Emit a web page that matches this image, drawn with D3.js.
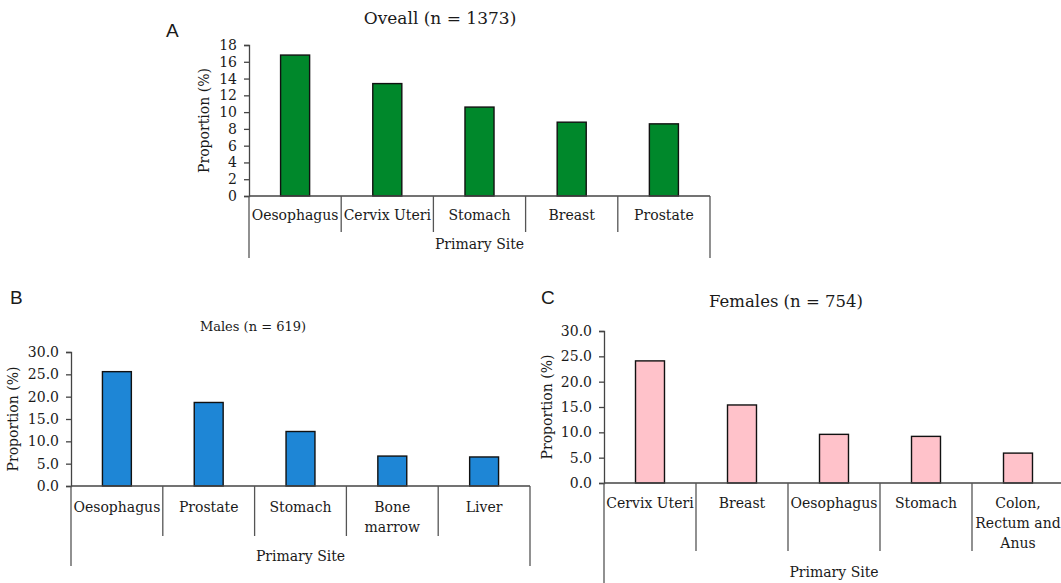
<!DOCTYPE html>
<html>
<head>
<meta charset="utf-8">
<script src="https://cdn.jsdelivr.net/npm/d3@7"></script>
<style>
  body { margin: 0; background: #fff; }
  text { font-family: "DejaVu Serif", serif; fill: #1a1a1a; }
  .panel-letter { font-family: "Liberation Sans", Arial, sans-serif; }
</style>
</head>
<body>
<svg id="chart" width="1061" height="583"></svg>
<script>
// overall
const overallSites = ['Oesophagus', 'Cervix Uteri', 'Stomach', 'Breast', 'Prostate']
const overallValues = [16.8, 13.4, 10.6, 8.8, 8.6]
const overallTicks = [0, 2, 4, 6, 8, 10, 12, 14, 16, 18]

// males
const maleSites = ['Oesophagus', 'Prostate', 'Stomach', 'Bone\nmarrow', 'Liver']
const maleValues = [25.6, 18.7, 12.2, 6.7, 6.5]
const maleTicks = [0, 5, 10, 15, 20, 25, 30]

// females
const femaleSites = ['Cervix Uteri', 'Breast', 'Oesophagus', 'Stomach', 'Colon,\nRectum and\nAnus']
const femaleValues = [24.1, 15.4, 9.6, 9.2, 5.9]
const femaleTicks = [0, 5, 10, 15, 20, 25, 30]

const svg = d3.select('#chart')

function drawPanel (opts) {
  const g = svg.append('g')
  const data = opts.sites.map((s, i) => ({ site: s, value: opts.values[i] }))

  const x = d3.scaleBand()
    .domain(opts.sites)
    .range([opts.left, opts.right])
    .paddingInner(0)
    .paddingOuter(0)

  const y = d3.scaleLinear()
    .domain([0, d3.max(opts.ticks)])
    .range([opts.bottom, opts.top])

  // y axis
  const yAxis = g.append('g')
    .attr('transform', `translate(${opts.left},0)`)
    .call(d3.axisLeft(y).tickValues(opts.ticks).tickSize(5).tickFormat(d3.format(opts.fmt)))
  yAxis.select('.domain').attr('stroke', '#444').attr('stroke-width', 1.3)
  yAxis.selectAll('.tick line').attr('stroke', '#444').attr('stroke-width', 1.3)
  yAxis.selectAll('.tick text')
    .attr('x', -12)
    .style('font-family', '"DejaVu Serif", serif')
    .style('font-size', opts.tickFont + 'px')
    .attr('fill', '#1a1a1a')

  // bars
  const bw = x.bandwidth() * 0.315
  g.selectAll('rect.bar')
    .data(data)
    .join('rect')
    .attr('class', 'bar')
    .attr('x', d => x(d.site) + (x.bandwidth() - bw) / 2)
    .attr('y', d => y(d.value))
    .attr('width', bw)
    .attr('height', d => y(0) - y(d.value))
    .attr('fill', opts.color)
    .attr('stroke', '#111')
    .attr('stroke-width', 1.4)

  // category axis with bracket lines
  g.append('line')
    .attr('x1', opts.left).attr('x2', opts.right)
    .attr('y1', y(0)).attr('y2', y(0))
    .attr('stroke', '#444').attr('stroke-width', 1.3)

  const bounds = opts.sites.map(s => x(s)).concat([opts.right])
  g.selectAll('line.sep')
    .data(bounds)
    .join('line')
    .attr('class', 'sep')
    .attr('x1', d => d).attr('x2', d => d)
    .attr('y1', y(0))
    .attr('y2', (d, i) => (i === 0 || i === bounds.length - 1) ? y(0) + opts.outerDrop : y(0) + opts.innerDrop)
    .attr('stroke', '#555').attr('stroke-width', 1.3)

  // category labels
  const labels = g.selectAll('text.cat')
    .data(data)
    .join('text')
    .attr('class', 'cat')
    .attr('x', d => x(d.site) + x.bandwidth() / 2)
    .attr('y', y(0) + opts.labelOffset)
    .attr('text-anchor', 'middle')
    .style('font-size', opts.labelFont + 'px')
  labels.each(function (d) {
    const lines = d.site.split('\n')
    d3.select(this).selectAll('tspan')
      .data(lines)
      .join('tspan')
      .attr('x', x(d.site) + x.bandwidth() / 2)
      .attr('dy', (l, i) => i === 0 ? 0 : 20)
      .text(l => l)
  })

  // axis titles
  g.append('text')
    .attr('x', (opts.left + opts.right) / 2)
    .attr('y', y(0) + opts.siteOffset)
    .attr('text-anchor', 'middle')
    .style('font-size', opts.labelFont + 'px')
    .text('Primary Site')

  g.append('text')
    .attr('transform', `translate(${opts.yLabelX},${(opts.top + opts.bottom) / 2}) rotate(-90)`)
    .attr('text-anchor', 'middle')
    .style('font-size', opts.labelFont + 'px')
    .text('Proportion (%)')

  // title
  g.append('text')
    .attr('x', opts.titleX)
    .attr('y', opts.titleY)
    .attr('text-anchor', 'middle')
    .style('font-size', opts.titleFont + 'px')
    .text(opts.title)

  // panel letter
  g.append('text')
    .attr('class', 'panel-letter')
    .attr('x', opts.letterX)
    .attr('y', opts.letterY)
    .style('font-size', '19px')
    .attr('fill', '#111')
    .text(opts.letter)
}

drawPanel({
  sites: overallSites, values: overallValues, ticks: overallTicks, fmt: 'd',
  left: 249, right: 710, top: 45, bottom: 196, color: '#00882B',
  tickFont: 14, labelFont: 14, titleFont: 17, title: 'Oveall (n = 1373)', titleX: 440, titleY: 24,
  innerDrop: 36, outerDrop: 62, labelOffset: 24, siteOffset: 53, yLabelX: 209,
  letter: 'A', letterX: 166, letterY: 37
})

drawPanel({
  sites: maleSites, values: maleValues, ticks: maleTicks, fmt: '.1f',
  left: 71, right: 530, top: 352, bottom: 486, color: '#1E86D6',
  tickFont: 14, labelFont: 14, titleFont: 13, title: 'Males (n = 619)', titleX: 253, titleY: 331,
  innerDrop: 50, outerDrop: 80, labelOffset: 26, siteOffset: 75, yLabelX: 18,
  letter: 'B', letterX: 10, letterY: 304
})

drawPanel({
  sites: femaleSites, values: femaleValues, ticks: femaleTicks, fmt: '.1f',
  left: 604, right: 1064, top: 331, bottom: 483, color: '#FFC2CA',
  tickFont: 14, labelFont: 14, titleFont: 16.5, title: 'Females (n = 754)', titleX: 786, titleY: 307,
  innerDrop: 68, outerDrop: 100, labelOffset: 25, siteOffset: 94, yLabelX: 552,
  letter: 'C', letterX: 541, letterY: 304
})
</script>
</body>
</html>
